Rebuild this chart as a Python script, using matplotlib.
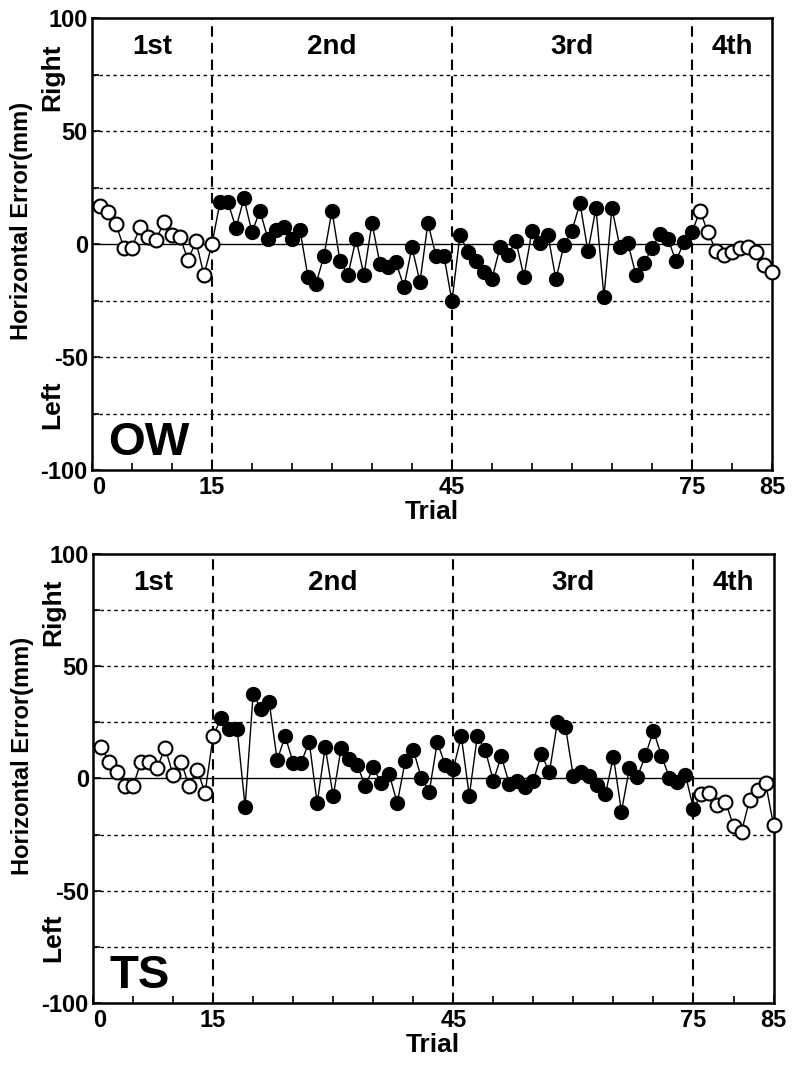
import numpy as np
import matplotlib
matplotlib.use('Agg')
import matplotlib.pyplot as plt
from matplotlib.ticker import MultipleLocator

plt.rcParams['font.family'] = ['Liberation Sans', 'DejaVu Sans']
plt.rcParams['font.weight'] = 'bold'
plt.rcParams['axes.unicode_minus'] = False

# ---- data ----
trials = np.arange(1, 86)

ow_err = [17.0, 14.3, 8.8, -1.8, -1.8, 7.7, 3.2, 1.9, 9.6, 4.0, 3.2, -7.1, 1.2, -13.7, 0.0,
          18.4, 18.4, 7.1, 20.2, 5.2, 14.7, 2.2, 6.0, 7.7, 2.2, 6.3, -14.5, -17.7, -5.2, 14.7,
          -7.4, -13.7, 2.2, -13.7, 9.3, -8.8, -10.3, -8.1, -18.9, -1.5, -16.7, 9.3, -5.2, -5.2, -25.4,
          4.0, -3.7, -7.4, -12.5, -15.5, -1.5, -4.7, 1.2, -14.5, 5.6, 0.3, 4.0, -15.7, -0.3, 5.9,
          18.0, -3.2, 15.8, -23.3, 15.9, -1.5, 0.3, -13.7, -8.6, -1.8, 4.4, 2.2, -7.4, 0.7, 5.2,
          14.7, 5.2, -2.9, -4.9, -3.7, -1.9, -1.5, -3.7, -9.1, -12.5]

ts_err = [14.1, 7.4, 2.7, -3.3, -3.3, 7.4, 7.4, 4.5, 13.8, 1.6, 7.4, -3.3, 3.9, -6.3, 18.8,
          26.9, 22.0, 22.0, -12.5, 37.6, 31.0, 34.2, 8.2, 18.8, 7.1, 7.1, 16.4, -11.0, 14.1, -8.0,
          13.8, 8.6, 6.0, -3.3, 4.9, -2.1, 1.9, -11.0, 7.9, 12.8, 0.4, -5.8, 16.1, 6.0, 4.2,
          18.8, -7.7, 18.8, 12.6, -1.0, 9.8, -2.5, -1.0, -4.0, -1.0, 10.9, 2.7, 25.0, 23.1, 0.9,
          3.0, 1.2, -3.0, -7.0, 9.7, -14.7, 4.5, 0.7, 10.4, 21.3, 10.1, 0.4, -1.5, 1.5, -13.4,
          -7.0, -6.5, -11.8, -10.4, -21.1, -23.8, -9.5, -5.2, -1.8, -20.8]

subjects = ['OW', 'TS']
block_edges = [15, 45, 75]
block_names = ['1st', '2nd', '3rd', '4th']
block_text_x = [7.5, 30, 60, 80]

fig = plt.figure(figsize=(7.95, 10.79), dpi=100)
ax_boxes = [[0.1157, 0.5644, 0.8553, 0.4189],
            [0.1170, 0.0704, 0.8560, 0.4162]]


def draw_panel(ax, err, name):
    err = np.asarray(err)
    # 网格线
    for yy in [-75, -50, -25, 25, 50, 75]:
        ax.axhline(yy, color='black', lw=1.0, ls=(0, (2.5, 2.5)), zorder=1)
    ax.axhline(0, color='black', lw=1.0, zorder=1)
    for xe in block_edges:
        ax.axvline(xe, color='black', lw=1.5, ls=(0, (5, 3)), zorder=1)

    ax.plot(trials, err, color='black', lw=1.0, zorder=2, clip_on=False)
    is_open = (trials <= block_edges[0]) | (trials > block_edges[-1])
    ax.plot(trials[is_open], err[is_open], 'o', ms=10, mfc='white', mec='black',
            mew=1.5, ls='none', zorder=3, clip_on=False)
    ax.plot(trials[~is_open], err[~is_open], 'o', ms=10, mfc='black', mec='black',
            ls='none', zorder=3, clip_on=False)

    ax.set_xlim(0, 85)
    ax.set_ylim(-100, 100)
    ax.set_xticks([0, 15, 45, 75, 85])
    ax.xaxis.set_minor_locator(MultipleLocator(5))
    ax.set_yticks([-100, -50, 0, 50, 100])
    ax.yaxis.set_minor_locator(MultipleLocator(25))
    ax.tick_params(which='both', direction='in', top=False, right=False,
                   labelsize=17, width=1.2)
    ax.tick_params(which='major', length=6)
    ax.tick_params(axis='x', which='major', pad=4)
    ax.tick_params(axis='y', which='major', pad=3)
    ax.tick_params(which='minor', length=5)
    for lab in ax.get_xticklabels() + ax.get_yticklabels():
        lab.set_fontweight('bold')
    ax.get_xticklabels()[0].set_horizontalalignment('left')
    for sp in ax.spines.values():
        sp.set_linewidth(1.8)

    for bx, bn in zip(block_text_x, block_names):
        ax.text(bx, 87, bn, fontsize=20, fontweight='bold', ha='center', va='center')
    ax.text(2.0, -88, name, fontsize=34, fontweight='bold', ha='left', va='center')

    ax.set_xlabel('Trial', fontsize=19, fontweight='bold', labelpad=1)
    ax.text(-0.103, 0.55, 'Horizontal Error(mm)', transform=ax.transAxes, rotation=90,
            fontsize=17, fontweight='bold', ha='center', va='center')
    ax.text(-0.059, 0.87, 'Right', transform=ax.transAxes, rotation=90,
            fontsize=19, fontweight='bold', ha='center', va='center')
    ax.text(-0.059, 0.145, 'Left', transform=ax.transAxes, rotation=90,
            fontsize=19, fontweight='bold', ha='center', va='center')


for box, err, name in zip(ax_boxes, [ow_err, ts_err], subjects):
    ax = fig.add_axes(box)
    draw_panel(ax, err, name)

fig.savefig('out.png', dpi=100)
